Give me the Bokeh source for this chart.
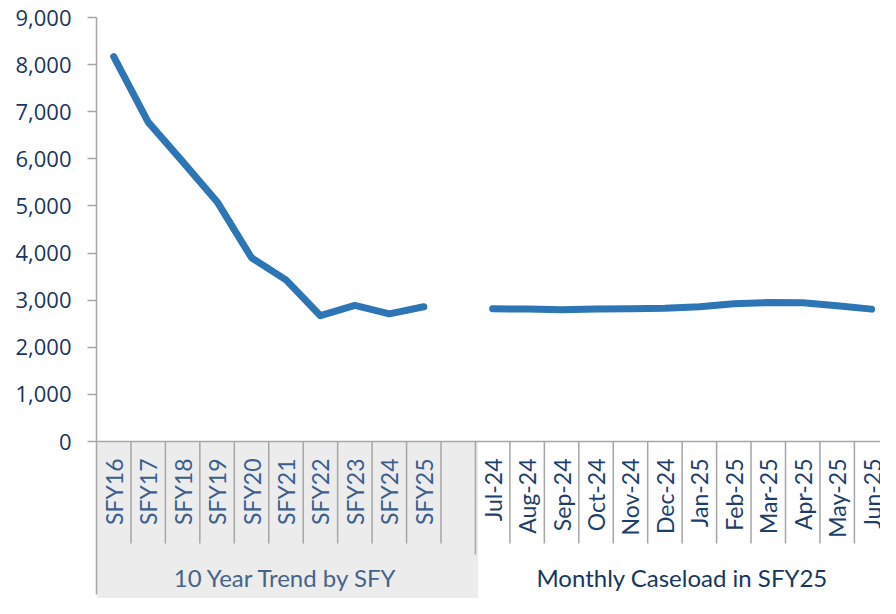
import math
from bokeh.plotting import figure
from bokeh.models import Range1d, FixedTicker, Span, NumeralTickFormatter
from bokeh.core.properties import value
from bokeh.embed import file_html
from bokeh.resources import INLINE

# ---- data ----
sfy_labels = ["SFY16", "SFY17", "SFY18", "SFY19", "SFY20", "SFY21", "SFY22", "SFY23", "SFY24", "SFY25"]
sfy_values = [8170, 6780, 5940, 5090, 3900, 3430, 2670, 2890, 2710, 2860]
month_labels = ["Jul-24", "Aug-24", "Sep-24", "Oct-24", "Nov-24", "Dec-24",
                "Jan-25", "Feb-25", "Mar-25", "Apr-25", "May-25", "Jun-25"]
month_values = [2817, 2810, 2795, 2810, 2817, 2830, 2860, 2925, 2950, 2945, 2880, 2810]
group_labels = ["10 Year Trend by SFY", "Monthly Caseload in SFY25"]
y_ticks = [0, 1000, 2000, 3000, 4000, 5000, 6000, 7000, 8000, 9000]

categories = sfy_labels + [""] + month_labels
n_sfy = len(sfy_labels)
gap = n_sfy  # index of blank category
sfy_x = [i + 0.5 for i in range(n_sfy)]
month_x = [gap + 1 + i + 0.5 for i in range(len(month_labels))]

W, H = 880, 598
border_left, border_top = 96, 17
cat_w = 34.45
frame_h = H - border_top
ppu = 424 / 9000.0           # pixels per unit
ymin = 9000 - frame_h / ppu
xmax = (W - border_left) / cat_w

def px_below(dy):
    return -dy / ppu

p = figure(width=W, height=H, output_backend="svg", toolbar_location=None,
           x_range=Range1d(0, xmax), y_range=Range1d(ymin, 9000),
           min_border_left=border_left, min_border_right=0,
           min_border_top=border_top, min_border_bottom=0)
p.outline_line_color = None
p.xgrid.visible = False
p.ygrid.visible = False
p.xaxis.visible = False
p.background_fill_color = "white"
p.border_fill_color = "white"

# grey band under first group
p.quad(left=[0], right=[gap + 1.08], bottom=[ymin], top=[0],
       fill_color="#ECECEC", line_color=None)

# category dividers
div_x = [i for i in range(1, len(categories)) if i != gap + 1]
p.segment(x0=div_x, x1=div_x, y0=[0] * len(div_x), y1=[px_below(102)] * len(div_x),
          line_color="#A6A6A6", line_width=1.5)
p.segment(x0=[gap + 1], x1=[gap + 1], y0=[0], y1=[px_below(113)],
          line_color="#A6A6A6", line_width=1.5)

# zero line
p.add_layout(Span(location=0, dimension="width", line_color="#A6A6A6", line_width=1.5))

# y axis
yax = p.yaxis[0]
yax.ticker = FixedTicker(ticks=y_ticks)
yax.formatter = NumeralTickFormatter(format="0,0")
yax.bounds = (px_below(153), 9000)
yax.axis_line_color = "#A6A6A6"
yax.axis_line_width = 1.5
yax.major_tick_line_color = "#A6A6A6"
yax.major_tick_line_width = 1.5
yax.major_tick_out = 9
yax.major_tick_in = 0
yax.minor_tick_line_color = None
yax.major_label_standoff = 16
yax.major_label_text_font = "Open Sans"
yax.major_label_text_font_size = "22px"
yax.major_label_text_color = "#1A3560"

# lines
p.line(x=sfy_x, y=sfy_values, line_width=7, line_color="#2E75B6",
       line_join="round", line_cap="round")
p.line(x=month_x, y=month_values, line_width=7, line_color="#2E75B6",
       line_join="round", line_cap="round")

# category labels
p.text(x=sfy_x, y=[px_below(17)] * n_sfy, text=sfy_labels, angle=math.pi / 2,
       text_align="right", text_baseline="middle",
       text_font=value("Lato"), text_font_size="23px", text_color="#3B5E8C")
p.text(x=month_x, y=[px_below(17)] * len(month_labels), text=month_labels, angle=math.pi / 2,
       text_align="right", text_baseline="middle",
       text_font=value("Lato"), text_font_size="23px", text_color="#1F3F6B")

# group labels
p.text(x=[(gap + 1) / 2.0], y=[px_below(136)], text=[group_labels[0]],
       text_align="center", text_baseline="middle",
       text_font=value("Lato"), text_font_size="24px", text_color="#44648A")
p.text(x=[(gap + 1 + len(categories)) / 2.0], y=[px_below(136)], text=[group_labels[1]],
       text_align="center", text_baseline="middle",
       text_font=value("Lato"), text_font_size="24px", text_color="#17375E")

open("out.html", "w").write(file_html(p, INLINE))
